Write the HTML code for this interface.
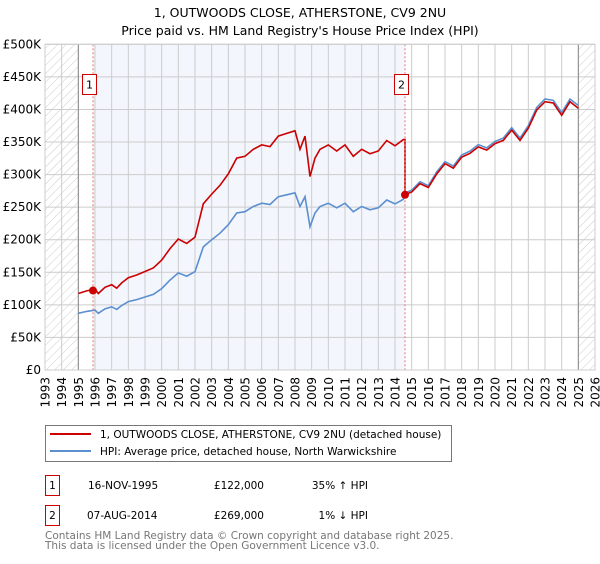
<!DOCTYPE html>
<html><head><meta charset="utf-8"><style>
body{margin:0;background:#fff;font-family:"DejaVu Sans","Liberation Sans",sans-serif;}
svg text{font-family:"DejaVu Sans","Liberation Sans",sans-serif;}
</style></head><body>
<svg id="chart" width="600" height="560" xmlns="http://www.w3.org/2000/svg">
<defs><pattern id="hatch" patternUnits="userSpaceOnUse" width="6" height="6" patternTransform="rotate(45)"><line x1="0" y1="0" x2="0" y2="6" stroke="#ccc" stroke-width="1"/></pattern></defs>
<text x="300" y="17" text-anchor="middle" font-size="12.5">1, OUTWOODS CLOSE, ATHERSTONE, CV9 2NU</text>
<text x="300" y="35" text-anchor="middle" font-size="12.5">Price paid vs. HM Land Registry's House Price Index (HPI)</text>
<g id="plot"></g>
<rect x="45.5" y="425.5" width="406" height="36" fill="#fff" stroke="#777"/>
<line x1="50" y1="434" x2="91" y2="434" stroke="#cc0000" stroke-width="2"/>
<text x="100" y="438" font-size="10.5">1, OUTWOODS CLOSE, ATHERSTONE, CV9 2NU (detached house)</text>
<line x1="50" y1="451" x2="91" y2="451" stroke="#5b8fd0" stroke-width="2"/>
<text x="100" y="455" font-size="10.5">HPI: Average price, detached house, North Warwickshire</text>
<g font-size="10.5">
<rect x="45.5" y="475.5" width="14" height="20" fill="#fff" stroke="#cc0000"/>
<text x="52.5" y="489" text-anchor="middle">1</text>
<text x="88" y="489">16-NOV-1995</text>
<text x="264" y="489" text-anchor="end">£122,000</text>
<text x="368" y="489" text-anchor="end">35% ↑ HPI</text>
</g>
<g font-size="10.5">
<rect x="45.5" y="505.5" width="14" height="20" fill="#fff" stroke="#cc0000"/>
<text x="52.5" y="519" text-anchor="middle">2</text>
<text x="87" y="519">07-AUG-2014</text>
<text x="264" y="519" text-anchor="end">£269,000</text>
<text x="368" y="519" text-anchor="end">1% ↓ HPI</text>
</g>
<text x="45" y="539" font-size="10.5" fill="#777">Contains HM Land Registry data © Crown copyright and database right 2025.</text>
<text x="45" y="549" font-size="10.5" fill="#777">This data is licensed under the Open Government Licence v3.0.</text>
</svg>
<script>
const hpiYears=[1995,1995.5,1996,1996.2,1996.6,1997,1997.3,1997.6,1998,1998.5,1999,1999.5,2000,2000.5,2001,2001.5,2002,2002.5,2003,2003.5,2004,2004.5,2005,2005.5,2006,2006.5,2007,2007.5,2008,2008.3,2008.6,2008.9,2009.2,2009.5,2010,2010.5,2011,2011.5,2012,2012.5,2013,2013.5,2014,2014.5,2014.6,2015,2015.5,2016,2016.5,2017,2017.5,2018,2018.5,2019,2019.5,2020,2020.5,2021,2021.5,2022,2022.5,2023,2023.5,2024,2024.5,2025];
const hpiValues=[87000,90000,92000,87000,94000,97000,93000,99000,105000,108000,112000,116000,125000,138000,149000,144000,151000,189000,200000,210000,223000,241000,243000,251000,256000,254000,266000,269000,272000,251000,266000,220000,241000,251000,256000,249000,256000,243000,251000,246000,249000,261000,255000,262000,272000,276000,289000,283000,304000,320000,313000,330000,336000,346000,341000,351000,356000,372000,356000,375000,403000,416000,414000,395000,416000,406000];
const saleYears=[1995.88,2014.6];
const salePrices=[122000,269000];
const saleRatios=[1.35,0.99];
const yTicks=[0,50000,100000,150000,200000,250000,300000,350000,400000,450000,500000];
const yTickLabels=["£0","£50K","£100K","£150K","£200K","£250K","£300K","£350K","£400K","£450K","£500K"];
const xTicks=[1993,1994,1995,1996,1997,1998,1999,2000,2001,2002,2003,2004,2005,2006,2007,2008,2009,2010,2011,2012,2013,2014,2015,2016,2017,2018,2019,2020,2021,2022,2023,2024,2025,2026];
const X0=45,X1=595,Y0=370,Y1=44.3;
const xs=v=>X0+(v-1993)/(2026-1993)*(X1-X0);
const ys=v=>Y0-v/500000*(Y0-Y1);
const NS="http://www.w3.org/2000/svg";
const g=document.getElementById('plot');
function el(t,a,p){const e=document.createElementNS(NS,t);for(const k in a)e.setAttribute(k,a[k]);(p||g).appendChild(e);return e;}
let r=el('rect',{x:xs(1993),y:Y1,width:xs(1995)-xs(1993),height:Y0-Y1,fill:'url(#hatch)'});

r=el('rect',{x:xs(2025),y:Y1,width:X1-xs(2025),height:Y0-Y1,fill:'url(#hatch)'});

r=el('rect',{x:xs(saleYears[0]),y:Y1,width:xs(saleYears[1])-xs(saleYears[0]),height:Y0-Y1,fill:'#f3f6fd'});

yTicks.forEach((t,i)=>{
  const l=el('line',{x1:X0,x2:X1,y1:ys(t),y2:ys(t),stroke:'#ccc'});
  
  const tx=el('text',{x:X0-4,y:ys(t)+4,'text-anchor':'end','font-size':'12'});tx.textContent=yTickLabels[i];
  
});
xTicks.forEach(t=>{
  const l=el('line',{x1:xs(t),x2:xs(t),y1:Y1,y2:Y0,stroke:'#ccc'});
  
  const x=xs(t)+4.5,y=377;
  const tx=el('text',{x:x,y:y,'text-anchor':'end','font-size':'12',transform:'rotate(-90 '+x+' '+y+')'});tx.textContent=t;
  
});
[1995,2025].forEach(t=>{const l=el('line',{x1:xs(t),x2:xs(t),y1:Y1,y2:Y0,stroke:'#888'});
  });
let d=hpiYears.map((y,i)=>(i?'L':'M')+xs(y).toFixed(1)+' '+ys(hpiValues[i]).toFixed(1)).join(' ');
let p=el('path',{d:d,fill:'none',stroke:'#5b8fd0','stroke-width':1.6});

let pts=[];
hpiYears.forEach((y,i)=>{ if(y<saleYears[1]) pts.push([y,hpiValues[i]*saleRatios[0]]); });
pts.push([saleYears[1],hpiValues[hpiYears.indexOf(2014.5)]*saleRatios[0]]);
pts.push([saleYears[1],salePrices[1]]);
hpiYears.forEach((y,i)=>{ if(y>saleYears[1]) pts.push([y,hpiValues[i]*saleRatios[1]]); });
d=pts.map((q,i)=>(i?'L':'M')+xs(q[0]).toFixed(1)+' '+ys(q[1]).toFixed(1)).join(' ');
p=el('path',{d:d,fill:'none',stroke:'#cc0000','stroke-width':1.6});

saleYears.forEach((y,i)=>{
  const l=el('line',{x1:xs(y),x2:xs(y),y1:Y1,y2:Y0,stroke:'#f07070','stroke-dasharray':'2,2'});
  
  const c=el('circle',{cx:xs(y),cy:ys(salePrices[i]),r:4,fill:'#cc0000'});
  
  const b=el('rect',{x:xs(y)-10.5,y:74.5,width:14,height:20,fill:'#fff',stroke:'#cc0000'});
  
  const t=el('text',{x:xs(y)-3.5,y:88.5,'text-anchor':'middle','font-size':'11'});t.textContent=String(i+1);
  
});
r=el('rect',{x:X0,y:Y1,width:X1-X0,height:Y0-Y1,fill:'none',stroke:'#ccc'});

</script>
</body></html>
